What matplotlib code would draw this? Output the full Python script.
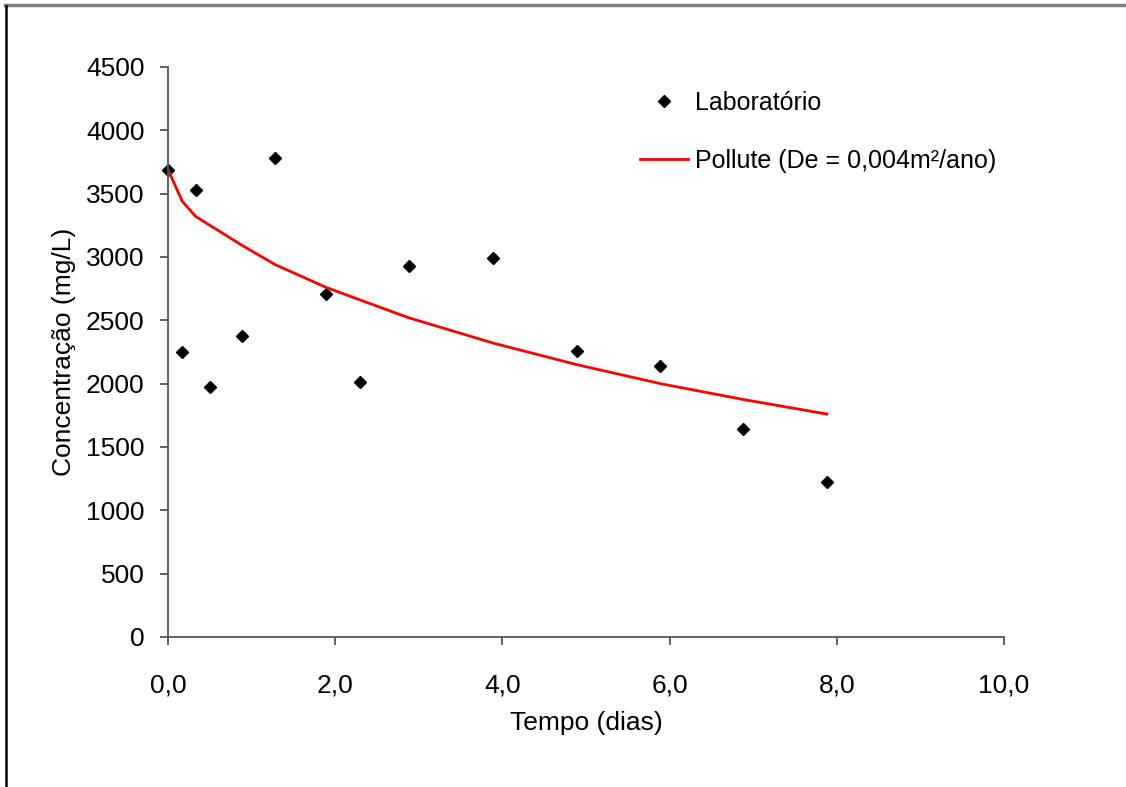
import numpy as np
import matplotlib
matplotlib.use("Agg")
import matplotlib.pyplot as plt
from matplotlib.lines import Line2D
from matplotlib.ticker import FuncFormatter

#  ############################# Data ##########################################

lab_tempo = [0.0, 0.17, 0.33, 0.5, 0.89, 1.28, 1.89, 2.3, 2.88, 3.89,
             4.89, 5.89, 6.88, 7.88]
lab_conc = [3690, 2250, 3530, 1970, 2380, 3780, 2710, 2010, 2930, 2990,
            2260, 2140, 1645, 1225]

pollute_tempo = [0.0, 0.17, 0.33, 0.5, 0.89, 1.28, 1.89, 2.3, 2.88, 3.89,
                 4.89, 5.89, 6.88, 7.88]
pollute_conc = [3690, 3440, 3320, 3250, 3090, 2940, 2760, 2660, 2520, 2320,
                2150, 2000, 1875, 1760]

x_label = 'Tempo (dias)'
y_label = 'Concentração (mg/L)'

#  ############################# Plot parameters ##############################

FONT_SIZE = 19
LEGEND_SIZE = 18
plt.rcParams['font.family'] = ['Liberation Sans', 'DejaVu Sans']
plt.rc('font', size=FONT_SIZE)
axis_color = '#555555'

fig = plt.figure(figsize=(11.26, 7.87), dpi=100)
ax = fig.add_axes([0.1492, 0.1906, 0.7425, 0.7243])

ax.plot(lab_tempo, lab_conc, linestyle='none', marker='D', markersize=6,
        color='black', label='Laboratório', clip_on=False)
ax.plot(pollute_tempo, pollute_conc, color='#ff0000', linewidth=2,
        label='Pollute (De = 0,004m²/ano)')

ax.set_xlim(0, 10)
ax.set_ylim(0, 4500)
ax.set_xticks(np.arange(0, 10.1, 2))
ax.set_yticks(np.arange(0, 4501, 500))
ax.xaxis.set_major_formatter(FuncFormatter(lambda v, p: f'{v:.1f}'.replace('.', ',')))

for side in ['top', 'right']:
    ax.spines[side].set_visible(False)
for side in ['left', 'bottom']:
    ax.spines[side].set_color(axis_color)
    ax.spines[side].set_linewidth(1.3)
ax.tick_params(direction='out', length=6, width=1.3, color=axis_color,
               labelsize=FONT_SIZE)
ax.tick_params(axis='x', pad=20)
ax.tick_params(axis='y', pad=11)

ax.set_xlabel(x_label, fontsize=FONT_SIZE, labelpad=10)
ax.set_ylabel(y_label, fontsize=FONT_SIZE, labelpad=7)

ax.legend(loc='upper left', bbox_to_anchor=(0.565, 0.958), frameon=False,
          handlelength=1.9, labelspacing=1.35, borderpad=0, borderaxespad=0,
          handletextpad=0.3, fontsize=LEGEND_SIZE)

# border lines of the original picture
fig.add_artist(Line2D([5 / 1126, 1.0], [1 - 5 / 787, 1 - 5 / 787],
                      color='#808080', linewidth=2.5))
fig.add_artist(Line2D([6 / 1126, 6 / 1126], [0, 1 - 6 / 787],
                      color='black', linewidth=1.8))

plt.savefig('out.png', dpi=100)
